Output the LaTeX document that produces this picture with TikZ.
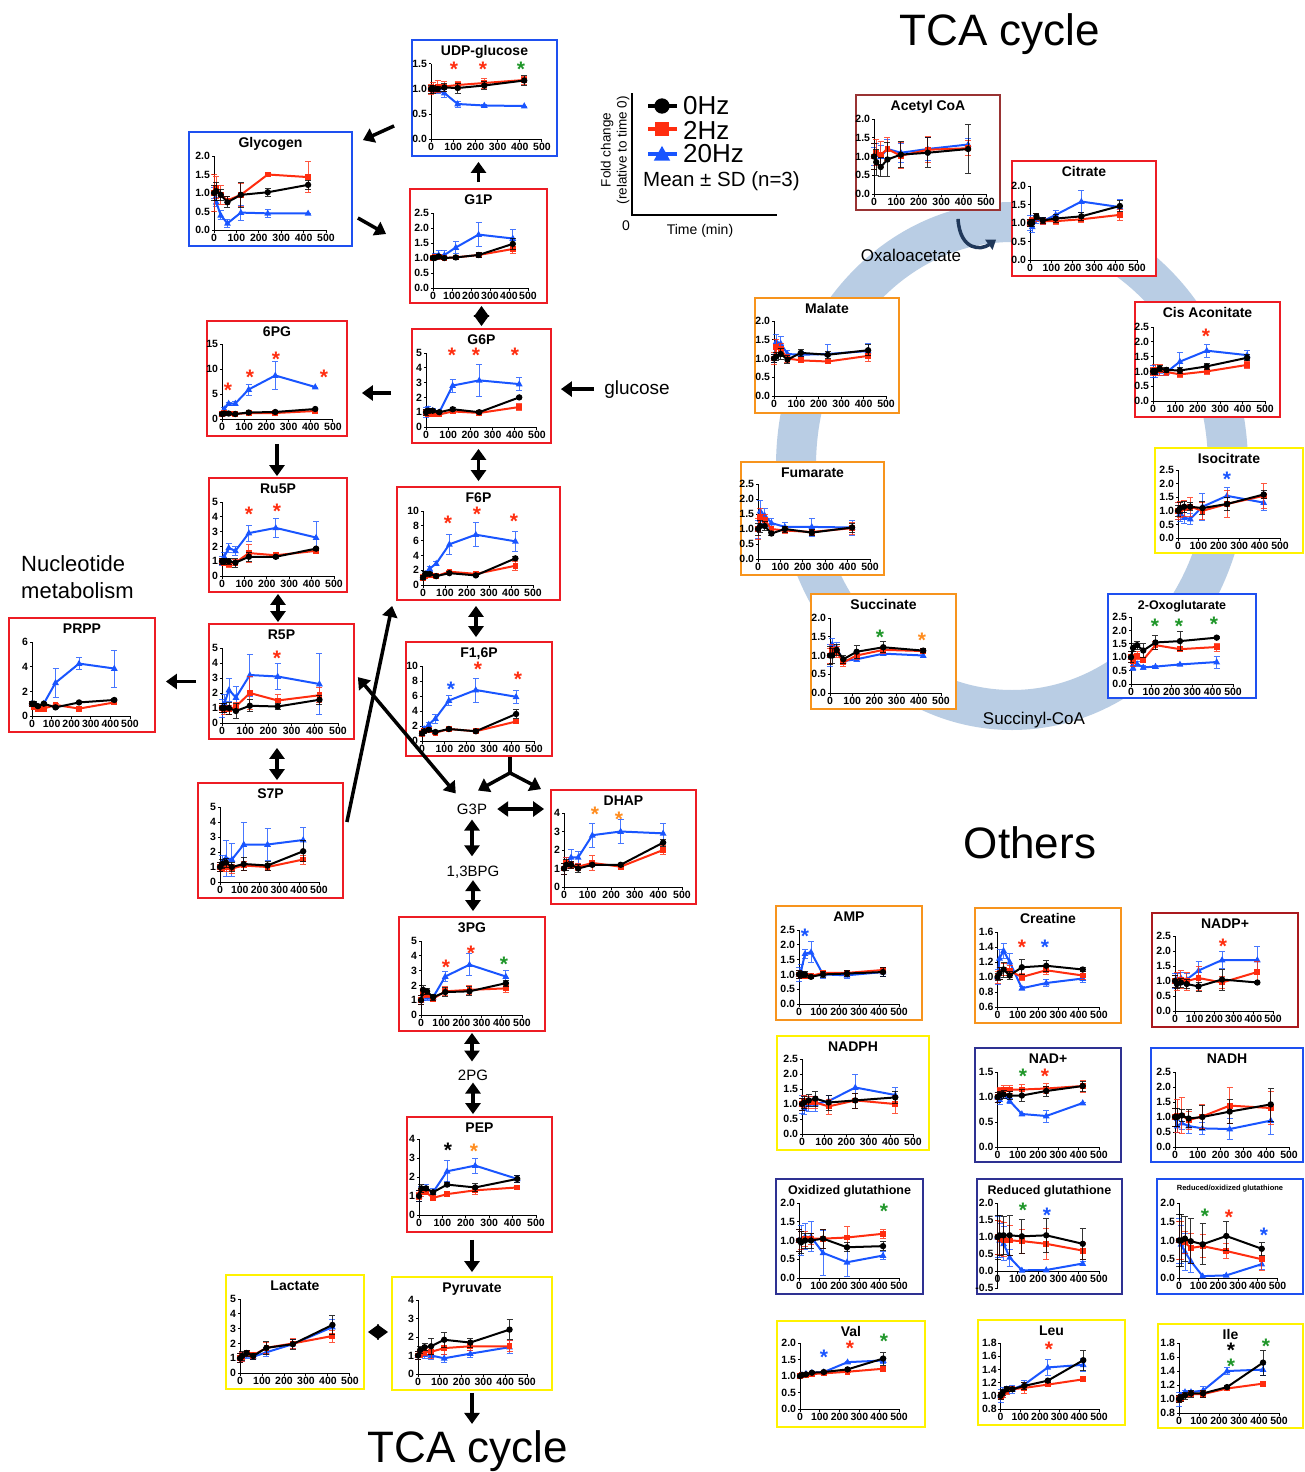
\documentclass[tikz,border=0pt]{standalone}
\usepackage{fontspec}
\setmainfont{Liberation Sans}
\usetikzlibrary{arrows.meta,fit}

\definecolor{fred}{RGB}{237,28,36}
\definecolor{fblue}{RGB}{30,80,240}
\definecolor{fnavy}{RGB}{46,49,146}
\definecolor{fyellow}{RGB}{255,242,0}
\definecolor{forange}{RGB}{247,148,29}
\definecolor{fbrown}{RGB}{153,51,51}
\definecolor{fcrimson}{RGB}{170,25,30}
\definecolor{sred}{RGB}{255,45,15}
\definecolor{sblue}{RGB}{25,85,255}
\definecolor{sgreen}{RGB}{30,150,40}
\definecolor{sorange}{RGB}{255,140,30}
\definecolor{ringblue}{RGB}{185,205,228}
\definecolor{arrownavy}{RGB}{32,56,90}

\newcounter{sigc}
% frame + title of one small chart
\newcommand{\chartpanel}[7]{%
  \node[panelbox, draw=#2, fit={(#3,#4) (#5,#6)}] (#1) {};
  \node[ptitle] (#1-title) at ([yshift=-16pt]#1.north) {#7};}
% name, x of 0 min, x of 500 min, y of ymin, y of ymax, ymin, ymax, y tick labels
\newcommand{\chartaxes}[8]{%
  \pgfmathsetmacro\sx{(#3-#2)/500}%
  \pgfmathsetmacro\sy{(#4-#5)/(#7-#6)}%
  \pgfmathsetmacro\oy{#4+(#6)*\sy}%
  \begin{scope}[shift={(#2,\oy)}, x={(\sx pt,0pt)}, y={(0pt,\sy pt)}]
  \draw[axisline] (0,#6) -- (500,#6);
  \foreach \tk [count=\k] in {#8} {\draw[axisline] (0,#7) -- (0,\tk) -- ++(-2.5pt,0pt) node[yticklab] (#1-y\k) {\tk};}
  \foreach \tk in {0,100,...,500} {\draw[axisline] (\tk,#6) -- ++(0pt,-2.5pt) node[xticklab] (#1-x\tk) {\tk};}}
\newcommand{\closechart}{\end{scope}}
% colour, marker, list time/mean/sd
\newcommand{\plotseries}[3]{%
  \foreach \tm/\val/\err in {#3} {\draw[errbar, #1] ([xshift=-3pt]\tm,{\val+\err}) -- ++(6pt,0pt) ([xshift=-3pt]\tm,{\val-\err}) -- ++(6pt,0pt) (\tm,{\val-\err}) -- (\tm,{\val+\err});}
  \draw[serline, #1] (0,1) \foreach \tm/\val/\err in {#3} {-- (\tm,\val)};
  \foreach \tm/\val/\err in {#3} {\pic at (\tm,\val) {#2};}}
\newcommand{\signif}[3]{\stepcounter{sigc}\node[sig, text=#1] (sig\arabic{sigc}) at (#2,#3) {*};}

\begin{document}
\begin{tikzpicture}[x=1pt, y=-1pt, >={Triangle[length=11pt,width=15pt]},
  panelbox/.style={rectangle, fill=white, line width=1.8pt, inner sep=0pt},
  ptitle/.style={anchor=base, inner sep=0pt, font=\fontsize{14}{14}\selectfont\bfseries},
  axisline/.style={line width=1pt},
  xticklab/.style={below, inner sep=1pt, font=\fontsize{10.5}{11}\selectfont\bfseries},
  yticklab/.style={left, inner sep=1pt, font=\fontsize{10.5}{11}\selectfont\bfseries},
  serline/.style={line width=2pt, line join=round},
  errbar/.style={line width=0.8pt, opacity=0.8},
  sig/.style={inner sep=0pt, yshift=-4.2pt, font=\fontsize{21}{21}\selectfont\bfseries},
  flow/.style={->, line width=3.5pt},
  dflow/.style={<->, line width=3.5pt},
  metlabel/.style={inner sep=2pt, font=\fontsize{15}{16}\selectfont},
  heading/.style={anchor=base, inner sep=0pt, font=\fontsize{44}{44}\selectfont},
  legtext/.style={anchor=west, inner sep=0pt, font=\fontsize{26}{26}\selectfont},
  tcaarrow/.style={-{Triangle[length=9pt,width=12pt]}, line width=3.5pt, arrownavy},
  mkzero/.pic={\fill[black] (0pt,0pt) circle (3.2pt);},
  mktwo/.pic={\fill[sred] (-2.9pt,-2.9pt) rectangle (2.9pt,2.9pt);},
  mktwenty/.pic={\fill[sblue] (0pt,3.8pt) -- (-3.4pt,-2.3pt) -- (3.4pt,-2.3pt) -- cycle;}]
\path[use as bounding box, fill=white] (0,0) rectangle (1304,1472);

\draw[ringblue, line width=40pt] (1012,466) ellipse [x radius=216, y radius=244];

\node[heading] (tcatop) at (1000,46) {TCA cycle};
\node[heading] (others) at (1030,858) {Others};
\node[heading] (tcabot) at (468,1462) {TCA cycle};
\node[anchor=west, inner sep=0pt, align=left, font=\fontsize{22}{27}\selectfont] (nucleo) at (21,577) {Nucleotide\\metabolism};
\node[anchor=base, inner sep=0pt, font=\fontsize{19}{20}\selectfont] (glucose) at (637,394) {glucose};
\node[metlabel] (gthreep) at (472,809) {G3P};
\node[metlabel, anchor=base] (bpg) at (473,876) {1,3BPG};
\node[metlabel] (twopg) at (473,1075) {2PG};
\node[anchor=base, inner sep=0pt, font=\fontsize{17}{18}\selectfont] (oxalo) at (911,261) {Oxaloacetate};
\node[anchor=base, inner sep=0pt, font=\fontsize{17}{18}\selectfont] (succoa) at (1034,724) {Succinyl-CoA};

% legend
\draw[line width=2pt] (632,93) -- (632,215) -- (777,215);
\node[rotate=90, align=center, inner sep=0pt, font=\fontsize{13.5}{16}\selectfont] (ylab) at (615,150) {Fold change\\(relative to time 0)};
\node[inner sep=0pt, font=\fontsize{14}{14}\selectfont] (zero) at (626,226) {0};
\node[anchor=base, inner sep=0pt, font=\fontsize{14}{14}\selectfont] (tlab) at (700,234) {Time (min)};
\draw[line width=3.5pt] (648,106) -- (677,106);
\pic[scale=2.4] at (662,106) {mkzero};
\draw[sred, line width=3.5pt] (648,129) -- (677,129);
\pic[scale=2.4] at (662,129) {mktwo};
\draw[sblue, line width=3.5pt] (648,154) -- (677,154);
\pic[scale=2.4] at (662,155) {mktwenty};
\node[legtext] (leg0) at (683,106) {0Hz};
\node[legtext] (leg2) at (683,130) {2Hz};
\node[legtext] (leg20) at (683,154) {20Hz};
\node[anchor=base west, inner sep=0pt, font=\fontsize{20.5}{21}\selectfont] (legsd) at (643,186) {Mean ± SD (n=3)};

% glycolysis side
\chartpanel{glycogen}{fblue}{189}{132}{352}{246}{Glycogen}
\chartaxes{glycogen}{214}{326}{230}{156}{0}{2}{0.0,0.5,1.0,1.5,2.0}
\plotseries{sblue}{mktwenty}{0/1/.15, 10/.75/.12, 30/.4/.12, 60/.18/.1, 120/.47/.2, 240/.45/.1, 420/.45/0}
\plotseries{sred}{mktwo}{0/1/.5, 10/1.15/.3, 30/.95/.25, 60/.8/.1, 120/.95/.3, 240/1.5/.05, 420/1.43/.42}
\plotseries{black}{mkzero}{0/1/.2, 10/1.05/.25, 30/.95/.15, 60/.75/.15, 120/.95/.35, 240/1.02/.1, 420/1.22/.12}
\closechart

\chartpanel{udpglc}{fblue}{412}{40}{557}{156}{UDP-glucose}
\chartaxes{udpglc}{431}{542}{139}{64}{0}{1.5}{0.0,0.5,1.0,1.5}
\plotseries{sblue}{mktwenty}{0/1/.05, 10/.98/.05, 30/.97/.05, 60/.92/.08, 120/.7/.06, 240/.67/.02, 420/.66/0}
\plotseries{sred}{mktwo}{0/1/.1, 10/1.03/.1, 30/1.05/.12, 60/1.05/.1, 120/1.08/.08, 240/1.12/.1, 420/1.18/.08}
\plotseries{black}{mkzero}{0/1/.08, 10/1/.08, 30/1/.05, 60/1.03/.08, 120/1.02/.1, 240/1.07/.08, 420/1.17/.1}
\closechart
\signif{sred}{454}{65}
\signif{sred}{483}{65}
\signif{sgreen}{521}{65}

\chartpanel{gonep}{fred}{410}{189}{547}{303}{G1P}
\chartaxes{gonep}{433}{528}{288}{213}{0}{2.5}{0.0,0.5,1.0,1.5,2.0,2.5}
\plotseries{sblue}{mktwenty}{0/1/.05, 10/1.05/.1, 30/1.1/.15, 60/1.1/.15, 120/1.35/.2, 240/1.78/.4, 420/1.65/.32}
\plotseries{sred}{mktwo}{0/1/.05, 10/1.05/.08, 30/1.05/.08, 60/1/.05, 120/1.02/.05, 240/1.1/.08, 420/1.3/.15}
\plotseries{black}{mkzero}{0/1/.05, 10/1/.05, 30/1.05/.05, 60/1/.05, 120/1.02/.05, 240/1.1/.08, 420/1.47/.18}
\closechart

\chartpanel{sixpg}{fred}{207}{321}{347}{436}{6PG}
\chartaxes{sixpg}{222}{333}{419}{344}{0}{15}{0,5,10,15}
\plotseries{sblue}{mktwenty}{0/1/.3, 10/2/.4, 30/3.1/.3, 60/3.1/.4, 120/5.9/1.1, 240/8.7/2.8, 420/6.4/0}
\plotseries{sred}{mktwo}{0/1/.4, 10/1.2/.3, 30/1.1/.2, 60/1/.2, 120/1.2/.2, 240/1.2/.2, 420/1.6/.2}
\plotseries{black}{mkzero}{0/1/.3, 10/1.1/.2, 30/1.1/.2, 60/1/.2, 120/1.3/.2, 240/1.4/.2, 420/2/.2}
\closechart
\signif{sred}{228}{386}
\signif{sred}{250}{373}
\signif{sred}{276}{355}
\signif{sred}{324}{373}

\chartpanel{gsixp}{fred}{412}{329}{551}{443}{G6P}
\chartaxes{gsixp}{426}{537}{427}{353}{0}{5}{0,1,2,3,4,5}
\plotseries{sblue}{mktwenty}{0/1/.35, 10/1.2/.2, 30/1.1/.15, 60/1/.1, 120/2.8/.45, 240/3.15/1.05, 420/2.9/.45}
\plotseries{sred}{mktwo}{0/1/.2, 10/.9/.2, 30/.9/.1, 60/.85/.1, 120/1.05/.1, 240/.95/.1, 420/1.35/.25}
\plotseries{black}{mkzero}{0/1/.2, 10/1.1/.15, 30/1.1/.1, 60/1/.1, 120/1.2/.1, 240/1/.1, 420/2/.05}
\closechart
\signif{sred}{452}{351}
\signif{sred}{476}{351}
\signif{sred}{515}{351}

\chartpanel{rufivep}{fred}{209}{478}{347}{592}{Ru5P}
\chartaxes{rufivep}{222}{334}{576}{502}{0}{5}{0,1,2,3,4,5}
\plotseries{sblue}{mktwenty}{0/1/.3, 10/1.3/.3, 30/1.9/.3, 60/1.7/.3, 120/2.9/.55, 240/3.25/.65, 420/2.6/1.1}
\plotseries{sred}{mktwo}{0/1/.2, 10/.9/.2, 30/.8/.2, 60/.9/.2, 120/1.55/.6, 240/1.4/.1, 420/1.7/.1}
\plotseries{black}{mkzero}{0/1/.2, 10/1/.2, 30/1/.2, 60/.9/.3, 120/1.3/.3, 240/1.3/.1, 420/1.85/.1}
\closechart
\signif{sred}{249}{510}
\signif{sred}{277}{507}

\chartpanel{fsixp}{fred}{397}{487}{560}{600}{F6P}
\chartaxes{fsixp}{423}{533}{585}{511}{0}{10}{0,2,4,6,8,10}
\plotseries{sblue}{mktwenty}{0/1/.3, 10/1.5/.3, 30/2.2/.3, 60/2.9/.3, 120/5.5/1.4, 240/6.8/1.6, 420/5.9/1.3}
\plotseries{sred}{mktwo}{0/1/.4, 10/1.2/.3, 30/1.4/.3, 60/1.2/.2, 120/1.8/.2, 240/1.5/.2, 420/2.6/.6}
\plotseries{black}{mkzero}{0/1/.3, 10/1.5/.3, 30/1.5/.2, 60/1.2/.2, 120/1.6/.2, 240/1.3/.2, 420/3.6/.2}
\closechart
\signif{sred}{448}{519}
\signif{sred}{477}{510}
\signif{sred}{514}{517}

\chartpanel{prpp}{fred}{9}{618}{155}{732}{PRPP}
\chartaxes{prpp}{32}{130}{716}{642}{0}{6}{0,2,4,6}
\plotseries{sblue}{mktwenty}{0/1/.2, 10/.9/.2, 30/.7/.1, 60/1/.1, 120/2.7/1.2, 240/4.25/.5, 420/3.85/1.5}
\plotseries{sred}{mktwo}{0/1/.2, 10/.7/.1, 30/.6/.1, 60/.6/.1, 120/.9/.1, 240/.6/.1, 420/1.1/.1}
\plotseries{black}{mkzero}{0/1/.2, 10/1/.2, 30/.8/.1, 60/1/.1, 120/.7/.1, 240/1.1/.1, 420/1.3/.1}
\closechart

\chartpanel{rfivep}{fred}{209}{624}{354}{739}{R5P}
\chartaxes{rfivep}{222}{338}{723}{648}{0}{5}{0,1,2,3,4,5}
\plotseries{sblue}{mktwenty}{0/1/.6, 10/1.3/.6, 30/2.2/.75, 60/1.7/.75, 120/3.2/1.4, 240/3.1/.85, 420/2.6/2.05}
\plotseries{sred}{mktwo}{0/1/.3, 10/.9/.3, 30/.9/.3, 60/1.1/.3, 120/2/1.1, 240/1.5/.4, 420/1.85/.5}
\plotseries{black}{mkzero}{0/1/.3, 10/1/.3, 30/1/.4, 60/.8/.5, 120/1.15/.4, 240/1.1/.2, 420/1.55/.3}
\closechart
\signif{sred}{277}{654}

\chartpanel{ssevenp}{fred}{198}{783}{343}{898}{S7P}
\chartaxes{ssevenp}{220}{319}{882}{807}{0}{5}{0,1,2,3,4,5}
\plotseries{sblue}{mktwenty}{0/1/.3, 10/1.3/.5, 30/1.6/1.2, 60/1.5/1.1, 120/2.5/1.5, 240/2.5/1.05, 420/2.8/.85}
\plotseries{sred}{mktwo}{0/1/.3, 10/.9/.2, 30/1/.3, 60/.9/.3, 120/1.1/.3, 240/1/.2, 420/1.5/.3}
\plotseries{black}{mkzero}{0/1/.3, 10/1.2/.3, 30/1.3/.3, 60/1/.3, 120/1.2/.45, 240/1.1/.3, 420/2.05/.7}
\closechart

\chartpanel{fbp}{fred}{406}{642}{552}{756}{F1,6P}
\chartaxes{fbp}{422}{534}{741}{666}{0}{10}{0,2,4,6,8,10}
\plotseries{sblue}{mktwenty}{0/1/.3, 10/1.6/.3, 30/2.2/.3, 60/3/.6, 120/5.4/.7, 240/6.8/1.6, 420/5.9/.9}
\plotseries{sred}{mktwo}{0/1/.4, 10/1.4/.3, 30/1.5/.2, 60/1.1/.2, 120/1.6/.2, 240/1.3/.2, 420/2.6/.3}
\plotseries{black}{mkzero}{0/1/.3, 10/1.3/.3, 30/1.5/.2, 60/1.2/.2, 120/1.6/.2, 240/1.3/.2, 420/3.6/.6}
\closechart
\signif{sblue}{451}{685}
\signif{sred}{478}{665}
\signif{sred}{518}{675}

\chartpanel{dhap}{fred}{551}{790}{696}{904}{DHAP}
\chartaxes{dhap}{564}{682}{887}{813}{0}{4}{0,1,2,3,4}
\plotseries{sblue}{mktwenty}{0/1/.3, 10/1.3/.3, 30/1.6/.45, 60/1.6/.3, 120/2.8/.65, 240/3/.65, 420/2.9/.55}
\plotseries{sred}{mktwo}{0/1/.3, 10/1.3/.3, 30/1.2/.2, 60/1.1/.2, 120/1.3/.4, 240/1.1/.1, 420/2/.25}
\plotseries{black}{mkzero}{0/1/.3, 10/1.2/.3, 30/1.2/.2, 60/1/.2, 120/1.2/.1, 240/1.2/.1, 420/2.4/.2}
\closechart
\signif{sorange}{595}{810}
\signif{sorange}{619}{815}

\chartpanel{threepg}{fred}{399}{917}{545}{1031}{3PG}
\chartaxes{threepg}{421}{522}{1015}{941}{0}{5}{0,1,2,3,4,5}
\plotseries{sblue}{mktwenty}{0/1/.3, 10/1.3/.3, 30/1.2/.2, 60/1.2/.2, 120/2.6/.35, 240/3.4/.75, 420/2.6/.4}
\plotseries{sred}{mktwo}{0/1/.3, 10/1.5/.3, 30/1.4/.2, 60/1.1/.2, 120/1.6/.3, 240/1.7/.3, 420/1.8/.3}
\plotseries{black}{mkzero}{0/1/.3, 10/1.7/.3, 30/1.6/.2, 60/1.2/.2, 120/1.55/.3, 240/1.6/.3, 420/2.15/.2}
\closechart
\signif{sred}{446}{963}
\signif{sred}{471}{949}
\signif{sgreen}{504}{960}

\chartpanel{pep}{fred}{407}{1117}{552}{1232}{PEP}
\chartaxes{pep}{419}{536}{1215}{1139}{0}{4}{0,1,2,3,4}
\plotseries{sblue}{mktwenty}{0/1/.3, 10/1.3/.2, 30/1.4/.2, 60/1.2/.2, 120/2.3/.55, 240/2.6/.4, 420/1.9/.2}
\plotseries{sred}{mktwo}{0/1/.2, 10/1.2/.2, 30/1.2/.1, 60/.9/.1, 120/1.1/.1, 240/1.3/.2, 420/1.45/.1}
\plotseries{black}{mkzero}{0/1/.3, 10/1.4/.2, 30/1.4/.1, 60/1.2/.1, 120/1.6/.1, 240/1.45/.2, 420/1.9/.2}
\closechart
\signif{black}{448}{1146}
\signif{sorange}{474}{1147}

\chartpanel{lactate}{fyellow}{226}{1275}{364}{1389}{Lactate}
\chartaxes{lactate}{240}{350}{1373}{1299}{0}{5}{0,1,2,3,4,5}
\plotseries{sblue}{mktwenty}{0/1/.3, 10/1.1/.3, 30/1.2/.2, 60/1.1/.2, 120/1.4/.3, 240/1.95/.3, 420/3.1/.5}
\plotseries{sred}{mktwo}{0/1/.3, 10/1.1/.3, 30/1.3/.2, 60/1.2/.2, 120/1.7/.4, 240/2/.35, 420/2.5/.4}
\plotseries{black}{mkzero}{0/1/.3, 10/1.15/.3, 30/1.35/.2, 60/1.15/.2, 120/1.7/.45, 240/1.95/.35, 420/3.25/.65}
\closechart

\chartpanel{pyruvate}{fyellow}{392}{1277}{552}{1390}{Pyruvate}
\chartaxes{pyruvate}{418}{527}{1374}{1300}{0}{4}{0,1,2,3,4}
\plotseries{sblue}{mktwenty}{0/1/.2, 10/1.1/.2, 30/1.05/.2, 60/1/.2, 120/.85/.2, 240/1.1/.2, 420/1.45/.35}
\plotseries{sred}{mktwo}{0/1/.2, 10/1.1/.2, 30/1.2/.2, 60/1.2/.35, 120/1.4/.35, 240/1.5/.2, 420/1.5/.3}
\plotseries{black}{mkzero}{0/1/.2, 10/1.3/.2, 30/1.45/.2, 60/1.5/.45, 120/1.85/.4, 240/1.7/.25, 420/2.4/.55}
\closechart

% TCA cycle
\chartpanel{acetylcoa}{fbrown}{856}{95}{1000}{210}{Acetyl CoA}
\chartaxes{acetylcoa}{874}{986}{194}{119}{0}{2}{0.0,0.5,1.0,1.5,2.0}
\plotseries{sblue}{mktwenty}{0/1/.25, 10/1.05/.3, 30/1/.3, 60/1.2/.25, 120/1.1/.25, 240/1.2/.3, 420/1.32/.15}
\plotseries{sred}{mktwo}{0/1/.35, 10/1.1/.35, 30/1.05/.35, 60/1.2/.3, 120/1.02/.35, 240/1.18/.35, 420/1.22/.2}
\plotseries{black}{mkzero}{0/1/.35, 10/.85/.35, 30/.72/.25, 60/.92/.45, 120/1.05/.35, 240/1.1/.4, 420/1.2/.65}
\closechart

\chartpanel{citrate}{fred}{1012}{161}{1156}{276}{Citrate}
\chartaxes{citrate}{1030}{1137}{260}{186}{0}{2}{0.0,0.5,1.0,1.5,2.0}
\plotseries{sblue}{mktwenty}{0/1/.2, 10/.9/.15, 30/1.1/.1, 60/1.05/.1, 120/1.22/.13, 240/1.58/.3, 420/1.43/.2}
\plotseries{sred}{mktwo}{0/1/.1, 10/1.05/.1, 30/1.15/.1, 60/1.05/.08, 120/1.05/.1, 240/1.1/.08, 420/1.22/.15}
\plotseries{black}{mkzero}{0/1/.1, 10/1/.1, 30/1.18/.08, 60/1.07/.08, 120/1.12/.1, 240/1.18/.1, 420/1.46/.15}
\closechart

\chartpanel{malate}{forange}{755}{298}{899}{413}{Malate}
\chartaxes{malate}{774}{886}{396}{321}{0}{2}{0.0,0.5,1.0,1.5,2.0}
\plotseries{sblue}{mktwenty}{0/1/.1, 10/1.45/.2, 30/1.4/.2, 60/1.12/.1, 120/1.1/.1, 240/1.12/.25, 420/1.2/.2}
\plotseries{sred}{mktwo}{0/1/.15, 10/1.3/.2, 30/1.25/.15, 60/1/.1, 120/.95/.05, 240/.92/.05, 420/1.07/.15}
\plotseries{black}{mkzero}{0/1/.1, 10/1.05/.1, 30/1.12/.15, 60/.97/.1, 120/1.15/.1, 240/1.1/.1, 420/1.22/.15}
\closechart

\chartpanel{cisaconitate}{fred}{1135}{302}{1280}{417}{Cis Aconitate}
\chartaxes{cisaconitate}{1153}{1265}{401}{327}{0}{2.5}{0.0,0.5,1.0,1.5,2.0,2.5}
\plotseries{sblue}{mktwenty}{0/1/.2, 10/.95/.15, 30/1/.15, 60/.97/.1, 120/1.33/.3, 240/1.7/.22, 420/1.55/.15}
\plotseries{sred}{mktwo}{0/1/.15, 10/1.05/.2, 30/1.05/.2, 60/.98/.1, 120/.9/.1, 240/1/.1, 420/1.22/.12}
\plotseries{black}{mkzero}{0/1/.1, 10/1/.1, 30/1.1/.1, 60/1.05/.08, 120/1.03/.1, 240/1.17/.1, 420/1.46/.1}
\closechart
\signif{sred}{1206}{332}

\chartpanel{fumarate}{forange}{741}{462}{884}{575}{Fumarate}
\chartaxes{fumarate}{758}{870}{559}{484}{0}{2.5}{0.0,0.5,1.0,1.5,2.0,2.5}
\plotseries{sblue}{mktwenty}{0/1/.3, 10/1.6/.35, 30/1.45/.25, 60/1.2/.15, 120/1.07/.15, 240/1.07/.3, 420/1.05/.25}
\plotseries{sred}{mktwo}{0/1/.35, 10/1.4/.3, 30/1.3/.2, 60/1/.1, 120/.95/.1, 240/.9/.1, 420/1.03/.2}
\plotseries{black}{mkzero}{0/1/.2, 10/1.1/.2, 30/1.1/.15, 60/.85/.05, 120/1/.1, 240/.88/.1, 420/1.05/.15}
\closechart

\chartpanel{isocitrate}{fyellow}{1155}{448}{1303}{553}{Isocitrate}
\chartaxes{isocitrate}{1178}{1280}{538}{470}{0}{2.5}{0.0,0.5,1.0,1.5,2.0,2.5}
\plotseries{sblue}{mktwenty}{0/1/.3, 10/.9/.3, 30/.75/.2, 60/.7/.2, 120/1.15/.5, 240/1.55/.3, 420/1.3/.3}
\plotseries{sred}{mktwo}{0/1/.3, 10/1.05/.3, 30/1.1/.3, 60/1.15/.35, 120/1/.3, 240/1.25/.5, 420/1.55/.45}
\plotseries{black}{mkzero}{0/1/.2, 10/1.1/.2, 30/1.15/.2, 60/1.15/.15, 120/1.1/.25, 240/1.25/.25, 420/1.6/.15}
\closechart
\signif{sblue}{1227}{475}

\chartpanel{succinate}{forange}{811}{594}{956}{709}{Succinate}
\chartaxes{succinate}{830}{941}{693}{618}{0}{2}{0.0,0.5,1.0,1.5,2.0}
\plotseries{sblue}{mktwenty}{0/1/.3, 10/1.3/.15, 30/1.2/.15, 60/.85/.1, 120/.9/.05, 240/1.05/.05, 420/1/.05}
\plotseries{sred}{mktwo}{0/1/.2, 10/1.15/.15, 30/1.1/.15, 60/.82/.1, 120/1/.1, 240/1.15/.1, 420/1.12/.05}
\plotseries{black}{mkzero}{0/1/.25, 10/1/.2, 30/1.15/.15, 60/.9/.1, 120/1.1/.18, 240/1.22/.15, 420/1.13/.05}
\closechart
\signif{sgreen}{880}{633}
\signif{sorange}{922}{636}

\chartpanel{oxoglutarate}{fblue}{1108}{594}{1256}{698}{{\fontsize{12.5}{13}\selectfont 2-Oxoglutarate}}
\chartaxes{oxoglutarate}{1131}{1233}{684}{617}{0}{2.5}{0.0,0.5,1.0,1.5,2.0,2.5}
\plotseries{sblue}{mktwenty}{0/1/.1, 10/.6/.1, 30/.75/.1, 60/.62/.08, 120/.65/.05, 240/.73/.05, 420/.82/.22}
\plotseries{sred}{mktwo}{0/1/.2, 10/.85/.2, 30/1.05/.15, 60/.9/.1, 120/1.45/.15, 240/1.3/.08, 420/1.38/.15}
\plotseries{black}{mkzero}{0/1/.2, 10/1.35/.15, 30/1.45/.15, 60/1.25/.25, 120/1.55/.25, 240/1.6/.35, 420/1.73/.03}
\closechart
\signif{sgreen}{1155}{622}
\signif{sgreen}{1179}{622}
\signif{sgreen}{1214}{620}

% others
\chartpanel{amp}{forange}{776}{906}{922}{1020}{AMP}
\chartaxes{amp}{799}{899}{1004}{930}{0}{2.5}{0.0,0.5,1.0,1.5,2.0,2.5}
\plotseries{sblue}{mktwenty}{0/1/.25, 10/1.1/.25, 30/1.7/.15, 60/1.75/.35, 120/1/.15, 240/.97/.1, 420/1.08/.15}
\plotseries{sred}{mktwo}{0/1/.15, 10/.95/.1, 30/.95/.1, 60/.95/.05, 120/1.05/.1, 240/1.05/.1, 420/1.15/.1}
\plotseries{black}{mkzero}{0/1/.15, 10/1/.1, 30/1/.1, 60/.92/.05, 120/1/.1, 240/1.03/.1, 420/1.08/.15}
\closechart
\signif{sblue}{805}{932}

\chartpanel{creatine}{forange}{975}{908}{1121}{1023}{Creatine}
\chartaxes{creatine}{997.5}{1099}{1007}{932}{0.6}{1.6}{0.6,0.8,1.0,1.2,1.4,1.6}
\plotseries{sblue}{mktwenty}{0/1/.1, 10/1.25/.12, 30/1.35/.1, 60/1.2/.12, 120/.85/.02, 240/.92/.05, 420/.98/.05}
\plotseries{sred}{mktwo}{0/1/.08, 10/1.05/.08, 30/1.1/.08, 60/1.08/.08, 120/1/.05, 240/1.09/.05, 420/1.02/.05}
\plotseries{black}{mkzero}{0/1/.05, 10/1.05/.08, 30/1.1/.1, 60/1.02/.05, 120/1.13/.1, 240/1.15/.07, 420/1.1/.03}
\closechart
\signif{sred}{1022}{943}
\signif{sblue}{1045}{943}

\chartpanel{nadpplus}{fcrimson}{1152}{913}{1298}{1027}{NADP+}
\chartaxes{nadpplus}{1175}{1273}{1011}{936}{0}{2.5}{0.0,0.5,1.0,1.5,2.0,2.5}
\plotseries{sblue}{mktwenty}{0/1/.25, 10/1.05/.2, 30/1.1/.2, 60/1.05/.2, 120/1.35/.3, 240/1.7/.28, 420/1.7/.45}
\plotseries{sred}{mktwo}{0/1/.2, 10/1/.3, 30/1.05/.3, 60/1/.3, 120/1.1/.4, 240/.95/.2, 420/1.3/.35}
\plotseries{black}{mkzero}{0/1/.2, 10/.9/.15, 30/.95/.15, 60/.9/.15, 120/.82/.15, 240/1.05/.35, 420/.95/.03}
\closechart
\signif{sred}{1223}{942}

\chartpanel{nadph}{fyellow}{777}{1036}{929}{1150}{NADPH}
\chartaxes{nadph}{802}{913}{1134}{1059}{0}{2.5}{0.0,0.5,1.0,1.5,2.0,2.5}
\plotseries{sblue}{mktwenty}{0/1/.3, 10/.85/.2, 30/1/.25, 60/1/.25, 120/1.1/.2, 240/1.55/.45, 420/1.3/.25}
\plotseries{sred}{mktwo}{0/1/.2, 10/1.1/.2, 30/1.05/.2, 60/1.05/.2, 120/.92/.25, 240/1.12/.25, 420/1/.3}
\plotseries{black}{mkzero}{0/1/.2, 10/1.05/.2, 30/1.12/.2, 60/1.18/.25, 120/1.05/.25, 240/1.12/.25, 420/1.22/.2}
\closechart

\chartpanel{nadplus}{fnavy}{975}{1048}{1121}{1162}{NAD+}
\chartaxes{nadplus}{997.5}{1099}{1147}{1072}{0}{1.5}{0.0,0.5,1.0,1.5}
\plotseries{sblue}{mktwenty}{0/1/.1, 10/.95/.1, 30/1.05/.08, 60/.92/.05, 120/.66/.02, 240/.62/.12, 420/.88/.02}
\plotseries{sred}{mktwo}{0/1/.1, 10/1.12/.08, 30/1.15/.08, 60/1.15/.08, 120/1.15/.1, 240/1.17/.1, 420/1.22/.12}
\plotseries{black}{mkzero}{0/1/.1, 10/1.03/.08, 30/1.05/.08, 60/1.03/.08, 120/1.03/.12, 240/1.12/.1, 420/1.22/.1}
\closechart
\signif{sgreen}{1023}{1072}
\signif{sred}{1045}{1072}

\chartpanel{nadh}{fblue}{1151}{1048}{1303}{1162}{NADH}
\chartaxes{nadh}{1175}{1289}{1147}{1072}{0}{2.5}{0.0,0.5,1.0,1.5,2.0,2.5}
\plotseries{sblue}{mktwenty}{0/1/.3, 10/.7/.2, 30/.8/.2, 60/.7/.25, 120/.62/.2, 240/.6/.35, 420/.88/.45}
\plotseries{sred}{mktwo}{0/1/.3, 10/1.05/.55, 30/1.05/.6, 60/.9/.3, 120/1.02/.4, 240/1.38/.6, 420/1.3/.55}
\plotseries{black}{mkzero}{0/1/.3, 10/1/.3, 30/1.05/.2, 60/.95/.3, 120/1/.4, 240/1.18/.4, 420/1.42/.55}
\closechart

\chartpanel{oxglut}{fnavy}{776}{1179}{923}{1294}{{\fontsize{12.5}{13}\selectfont Oxidized glutathione}}
\chartaxes{oxglut}{799}{899}{1278}{1203}{0}{2}{0.0,0.5,1.0,1.5,2.0}
\plotseries{sblue}{mktwenty}{0/1/.3, 10/1/.4, 30/1.1/.35, 60/1.1/.4, 120/.67/.6, 240/.42/.38, 420/.6/.1}
\plotseries{sred}{mktwo}{0/1/.3, 10/1/.25, 30/1.05/.2, 60/1.05/.15, 120/1.05/.25, 240/1.08/.3, 420/1.18/.12}
\plotseries{black}{mkzero}{0/1/.3, 10/.95/.3, 30/1/.2, 60/1/.2, 120/1.05/.25, 240/.82/.12, 420/.85/.12}
\closechart
\signif{sgreen}{884}{1207}

\chartpanel{redglut}{fnavy}{977}{1179}{1122}{1294}{{\fontsize{12.5}{13}\selectfont Reduced glutathione}}
\chartaxes{redglut}{997.5}{1099}{1271}{1203}{0}{2}{-0.5,0.0,0.5,1.0,1.5,2.0}
\plotseries{sblue}{mktwenty}{0/1/.6, 10/.9/.5, 30/.8/.5, 60/.4/.25, 120/.02/.02, 240/.03/.02, 420/.22/.05}
\plotseries{sred}{mktwo}{0/1/.5, 10/.95/.5, 30/.92/.5, 60/.9/.45, 120/.88/.35, 240/.8/.45, 420/.6/.25}
\plotseries{black}{mkzero}{0/1/.65, 10/1.05/.6, 30/1.05/.55, 60/1.05/.6, 120/1.02/.5, 240/1.05/.5, 420/.8/.45}
\closechart
\signif{sgreen}{1023}{1206}
\signif{sblue}{1047}{1211}

\chartpanel{ratioglut}{fblue}{1157}{1179}{1303}{1294}{{\fontsize{7.5}{8}\selectfont\raisebox{4pt}{Reduced/oxidized glutathione}}}
\chartaxes{ratioglut}{1179}{1277.5}{1278}{1203}{0}{2}{0.0,0.5,1.0,1.5,2.0}
\plotseries{sblue}{mktwenty}{0/1/.6, 10/.9/.5, 30/.7/.5, 60/.45/.3, 120/.05/.02, 240/.07/.02, 420/.37/.15}
\plotseries{sred}{mktwo}{0/1/.5, 10/1/.5, 30/.95/.3, 60/.8/.4, 120/.85/.3, 240/.72/.2, 420/.5/.3}
\plotseries{black}{mkzero}{0/1/.7, 10/1/.7, 30/1.05/.6, 60/.98/.6, 120/.9/.55, 240/1.12/.38, 420/.78/.18}
\closechart
\signif{sgreen}{1205}{1212}
\signif{sred}{1229}{1213}
\signif{sblue}{1264}{1231}

\chartpanel{val}{fyellow}{777}{1321}{925}{1427}{Val}
\chartaxes{val}{800}{899}{1409}{1343}{0}{2}{0.0,0.5,1.0,1.5,2.0}
\plotseries{sblue}{mktwenty}{0/1/.03, 10/1.03/.03, 30/1.07/.03, 60/1.1/.03, 120/1.12/.03, 240/1.42/.03, 420/1.47/.1}
\plotseries{sred}{mktwo}{0/1/.03, 10/1.02/.03, 30/1.04/.03, 60/1.06/.03, 120/1.08/.03, 240/1.13/.03, 420/1.22/.03}
\plotseries{black}{mkzero}{0/1/.03, 10/1.03/.03, 30/1.05/.03, 60/1.1/.03, 120/1.12/.03, 240/1.2/.03, 420/1.53/.2}
\closechart
\signif{sblue}{824}{1353}
\signif{sred}{850}{1344}
\signif{sgreen}{884}{1337}

\chartpanel{leu}{fyellow}{978}{1320}{1125}{1425}{Leu}
\chartaxes{leu}{1000.6}{1099}{1409}{1343}{0.8}{1.8}{0.8,1.0,1.2,1.4,1.6,1.8}
\plotseries{sblue}{mktwenty}{0/1/.1, 10/1.05/.08, 30/1.1/.05, 60/1.1/.06, 120/1.17/.07, 240/1.43/.12, 420/1.47/.1}
\plotseries{sred}{mktwo}{0/1/.05, 10/1.03/.05, 30/1.07/.05, 60/1.1/.03, 120/1.12/.08, 240/1.17/.02, 420/1.25/.02}
\plotseries{black}{mkzero}{0/1/.05, 10/1.05/.05, 30/1.1/.04, 60/1.1/.03, 120/1.15/.05, 240/1.23/.02, 420/1.54/.15}
\closechart
\signif{sred}{1049}{1345}

\chartpanel{ile}{fyellow}{1158}{1324}{1303}{1428}{Ile}
\chartaxes{ile}{1179}{1279}{1413}{1343}{0.8}{1.8}{0.8,1.0,1.2,1.4,1.6,1.8}
\plotseries{sblue}{mktwenty}{0/1/.1, 10/1.05/.05, 30/1.1/.03, 60/1.1/.03, 120/1.12/.06, 240/1.4/.05, 420/1.42/.08}
\plotseries{sred}{mktwo}{0/1/.05, 10/1.02/.05, 30/1.05/.03, 60/1.07/.03, 120/1.07/.05, 240/1.15/.02, 420/1.22/.02}
\plotseries{black}{mkzero}{0/1/.05, 10/1.02/.05, 30/1.05/.05, 60/1.08/.05, 120/1.08/.05, 240/1.17/.02, 420/1.52/.18}
\closechart
\node[anchor=north, inner sep=0pt, align=center, font=\fontsize{21}{14}\selectfont\bfseries] (sigile) at (1231,1343) {*\\\textcolor{sgreen}{*}};
\signif{sgreen}{1266}{1342}

% pathway arrows
\draw[flow] ([shift={(-17,-31)}]udpglc.south west) -- ([shift={(10,9)}]glycogen.north east);
\draw[flow] ([shift={(5,29)}]glycogen.east) -- ([shift={(-23,-12)}]gonep.west);
\draw[flow, shorten <=6pt, shorten >=5pt] (gonep.north) -- (gonep.north |- udpglc.south);
\draw[dflow, shorten <=2pt, shorten >=2pt] (gsixp.north |- gonep.south) -- (gsixp.north);
\draw[flow] ([shift={(-20,7)}]gsixp.west) -- ([shift={(14,14.5)}]sixpg.east);
\draw[flow] ([xshift=-10pt]glucose.west) -- ([xshift=9pt]gsixp.east |- glucose.west);
\draw[dflow, shorten <=5pt, shorten >=5pt] (fsixp.north |- gsixp.south) -- (fsixp.north);
\draw[flow, shorten <=7pt, shorten >=1pt] (sixpg.south) -- (sixpg.south |- rufivep.north);
\draw[dflow, shorten <=1pt, shorten >=1pt] (rufivep.south) -- (rufivep.south |- rfivep.north);
\draw[flow] ([xshift=-12pt]rfivep.west) -- ([xshift=10pt]prpp.east |- rfivep.west);
\draw[dflow, shorten <=8pt, shorten >=2pt] ([xshift=-4.5pt]rfivep.south) -- ([xshift=-4.5pt]rfivep.south |- ssevenp.north);
\draw[dflow, shorten <=5pt, shorten >=4pt] ([xshift=-3pt]fbp.north |- fsixp.south) -- ([xshift=-3pt]fbp.north);
\draw[flow] ([shift={(3,-18.5)}]ssevenp.east) -- ([shift={(-4,5)}]fsixp.south west);
\draw[dflow] ([shift={(3,54)}]rfivep.north east) -- ([shift={(1,-8)}]gthreep.north west);
\draw[line width=3.5pt] ([xshift=31pt]fbp.south) -- ++(0,16) coordinate (fork);
\draw[flow] (fork) -- ([shift={(6,-11)}]gthreep.north);
\draw[flow] (fork) -- ([shift={(-9,0)}]dhap.north west);
\draw[dflow] ([xshift=8pt]gthreep.east) -- ([xshift=-6pt]dhap.west |- gthreep.east);
\draw[dflow, shorten <=3pt, shorten >=7pt] (gthreep.south) -- (gthreep.south |- bpg.north);
\draw[dflow, shorten >=5pt] (bpg.south) -- (bpg.south |- threepg.north);
\draw[dflow, shorten <=1pt, shorten >=6pt] (threepg.south) -- (threepg.south |- twopg.north);
\draw[dflow, shorten >=2pt] (twopg.south) -- (twopg.south |- pep.north);
\draw[flow, shorten <=7pt, shorten >=4pt] (pyruvate.north |- pep.south) -- (pyruvate.north);
\draw[dflow, shorten <=3pt, shorten >=3pt] (lactate.east) -- (lactate.east -| pyruvate.west);
\draw[flow, shorten <=2pt, shorten >=6pt] (pyruvate.south) -- (pyruvate.south |- tcabot.north);
\draw[tcaarrow] ([shift={(30,8)}]acetylcoa.south) .. controls ([shift={(32,40)}]acetylcoa.south) and ([shift={(-30,32)}]citrate.west) .. ([shift={(-15,21)}]citrate.west);
\end{tikzpicture}
\end{document}
